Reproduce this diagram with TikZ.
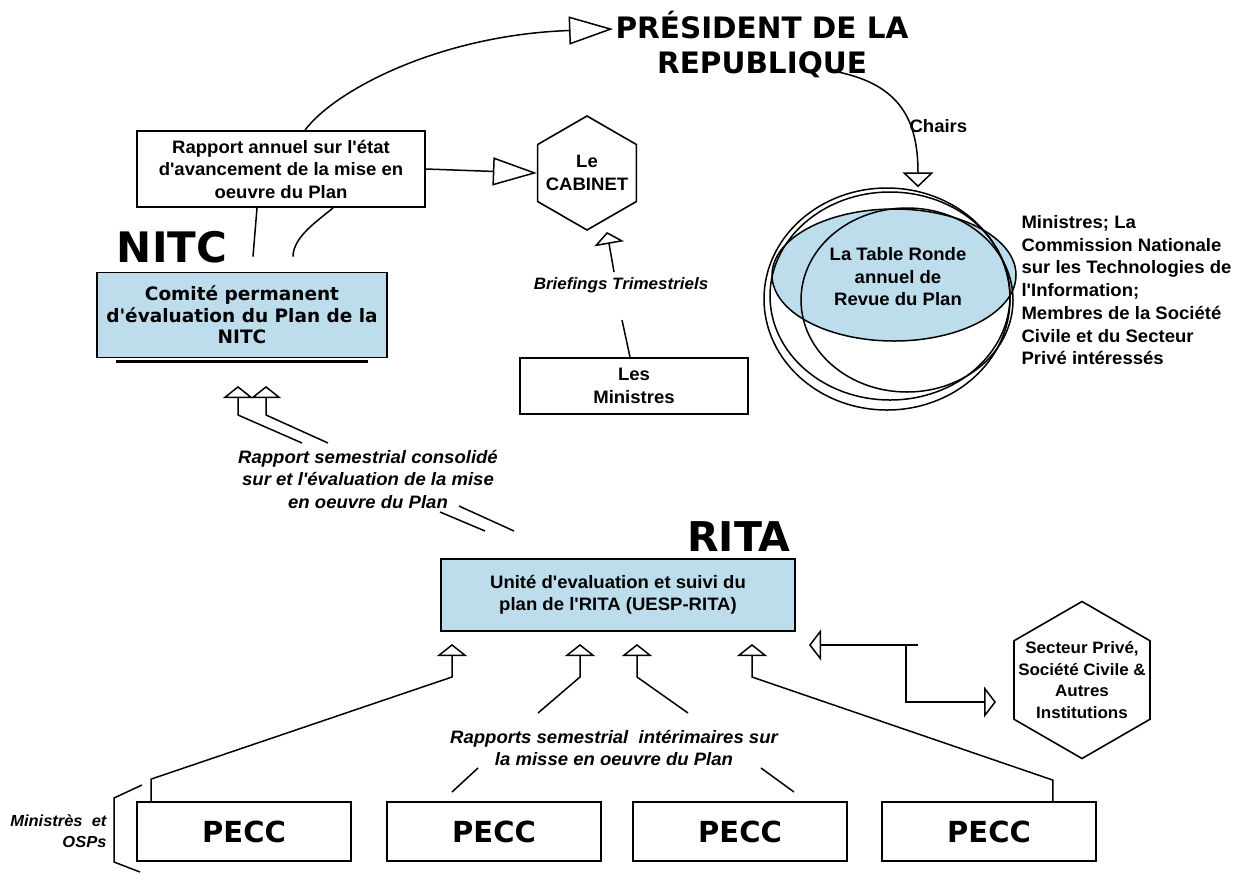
\documentclass[tikz,border=0pt]{standalone}
\usepackage{fontspec}
\setmainfont{Liberation Sans}[FakeStretch=1.03,Ligatures=TeXOff]
\newfontfamily\heavyfont{DejaVu Sans}
\usetikzlibrary{arrows.meta,shapes.geometric,calc}

\definecolor{planblue}{RGB}{190,221,236}

\newcommand{\plainlbl}{\fontsize{18}{22.5}\selectfont\bfseries}
\newcommand{\slantlbl}{\fontsize{18}{22.5}\selectfont\bfseries\itshape}
\newcommand{\heavysize}[2]{\heavyfont\bfseries\fontsize{#1}{#2}\selectfont}

\tikzset{
  box/.style={draw, line width=1.8pt, align=center, inner sep=0pt, font=\plainlbl},
  hexa/.style={draw, line width=1.6pt, regular polygon, regular polygon sides=6,
    shape border rotate=30, inner sep=0pt},
  pecc/.style={box, minimum width=214pt, minimum height=59pt, font=\heavysize{29}{30}},
  link/.style={line width=1.5pt},
  bigtip/.style={-{Triangle[open, length=44pt, width=28pt]}},
  smalltip/.style={-{Triangle[open, length=12pt, width=30pt]}},
  chairtip/.style={-{Triangle[open, length=15pt, width=31pt]}},
  thintip/.style={-{Triangle[open, length=12pt, width=31pt]}}
}

\begin{document}
\begin{tikzpicture}[x=1pt, y=-1pt]
  \useasboundingbox (0,0) rectangle (1246,873);

  % top part
  \node[align=center, font=\heavysize{29.5}{35}] (pres) at (762,44) {PRÉSIDENT DE LA\\REPUBLIQUE};
  \node[box, minimum width=288pt, minimum height=76pt] (rap) at (281,169)
    {Rapport annuel sur l'état\\d'avancement de la mise en\\oeuvre du Plan};
  \node[hexa, minimum size=114pt] (cab) at (587,173) {};
  \node[align=center, font=\plainlbl] (cabtxt) at (cab) {Le\\CABINET};
  \node[box, minimum width=228pt, minimum height=56pt] (min) at (634,386) {Les\\Ministres};
  \node[font=\fontsize{16.5}{20}\selectfont\bfseries\itshape] (brief) at (621,285) {Briefings Trimestriels};

  \node[font=\heavysize{42}{42}] (nitclbl) at (172,247) {NITC};
  \node[box, fill=planblue, minimum width=290pt, minimum height=85pt, font=\heavysize{18.5}{21.7}] (nitc) at (242,315)
    {Comité permanent\\d'évaluation du Plan de la\\NITC};
  \draw[line width=3pt] ([xshift=20pt,yshift=-3pt]nitc.south west) -- ([xshift=-20pt,yshift=-3pt]nitc.south east);

  \coordinate (prestip) at (613,29);
  \coordinate (chairsrc) at (838,72);
  \coordinate (cabtip) at (607,232);
  \coordinate (brf1) at (622,320);
  \coordinate (brf2) at (614,272);

  \draw[link, bigtip] ([xshift=24pt]rap.north) .. controls (335,90) and (440,35) .. (prestip);
  \draw[link, bigtip] (rap.east) -- (cab.west);
  \draw[link] ([xshift=11pt,yshift=15pt]nitc.north) -- ([xshift=-24pt]rap.south);
  \draw[link] ([xshift=51pt,yshift=15pt]nitc.north) .. controls +(0,-20) and +(-14,12) .. ([xshift=52pt]rap.south);
  \draw[link] ([xshift=-4pt]min.north) -- (brf1);
  \draw[link, smalltip] (brf2) -- (cabtip);

  % table ronde
  \draw[line width=1.5pt, fill=planblue] (894,275) ellipse [x radius=122, y radius=66];
  \node[draw, ellipse, line width=1.5pt, minimum width=246pt, minimum height=222pt, inner sep=0pt] (ronde) at (887,299) {};
  \draw[line width=1.5pt] (890,296) ellipse [x radius=120, y radius=104];
  \draw[line width=1.5pt] (907,300) ellipse [x radius=106, y radius=92];
  \node[align=center, font=\plainlbl] (table) at (898,277) {La Table Ronde\\annuel de\\Revue du Plan};
  \draw[link, chairtip] (chairsrc) .. controls (900,85) and (918,120) .. ([xshift=31pt]ronde.north);
  \node[font=\plainlbl, anchor=west] (chairs) at (906,126) {Chairs};
  \node[anchor=north west, align=left, font=\fontsize{18}{22.7}\selectfont\bfseries] (membres) at (1018,212)
    {Ministres; La\\Commission Nationale\\sur les Technologies de\\l'Information;\\Membres de la Société\\Civile et du Secteur\\Privé intéressés};

  % NITC <- RITA
  \node[align=center, font=\slantlbl] (semcons) at (368,479)
    {Rapport semestrial consolidé\\sur et l'évaluation de la mise\\en oeuvre du Plan};
  \coordinate (n1) at (238,386);
  \coordinate (n2) at (266,386);
  \draw[link, smalltip] (302,443) -- (238,415) -- (n1);
  \draw[link, smalltip] (328,443) -- (266,415) -- (n2);
  \draw[link] (485,531) -- (440,512);
  \draw[link] (514,531) -- (459,506);

  % RITA
  \node[font=\heavysize{41}{41}] (ritalbl) at (739,537) {RITA};
  \node[box, fill=planblue, minimum width=354pt, minimum height=72pt] (rita) at (618,595)
    {Unité d'evaluation et suivi du\\plan de l'RITA (UESP-RITA)};
  \node[hexa, minimum size=157pt] (sect) at (1082,680) {};
  \node[align=center, font=\fontsize{16.5}{21.5}\selectfont\bfseries] (secttxt) at (sect)
    {Secteur Privé,\\Société Civile \&\\Autres\\Institutions};

  \coordinate (rs) at (809,645);
  \coordinate (ss) at (996,702);
  \draw[link, thintip] (918,645) -- (rs);
  \draw[link, thintip] (906,645) |- (ss);

  % PECC
  \foreach \i/\x in {1/244, 2/494, 3/740, 4/989}
    \node[pecc] (p\i) at (\x,831.5) {PECC};

  \node[align=center, font=\slantlbl] (semint) at (614,748)
    {Rapports semestrial\ \ intérimaires sur\\la misse en oeuvre du Plan};
  \coordinate (r1) at (452,644);
  \coordinate (r2) at (580,644);
  \coordinate (r3) at (637,644);
  \coordinate (r4) at (752,644);
  \draw[link, smalltip] ([xshift=15pt]p1.north west) -- ++(0,-22) -- (452,677) -- (r1);
  \draw[link, smalltip] (538,713) -- (580,677) -- (r2);
  \draw[link] (478,768) -- (452,792);
  \draw[link, smalltip] (688,713) -- (637,677) -- (r3);
  \draw[link] (761,768) -- (794,792);
  \draw[link, smalltip] ([xshift=-44pt]p4.north east) -- ++(0,-21) -- (752,677) -- (r4);

  % Ministres et OSPs
  \draw[link] (142,785) -- (114,798) -- (114,862) -- (140,872);
  \node[align=right, anchor=east, font=\fontsize{16}{21}\selectfont\bfseries\itshape] (minosp) at (110,831)
    {Ministrès\ \ et\\OSPs};
\end{tikzpicture}
\end{document}
